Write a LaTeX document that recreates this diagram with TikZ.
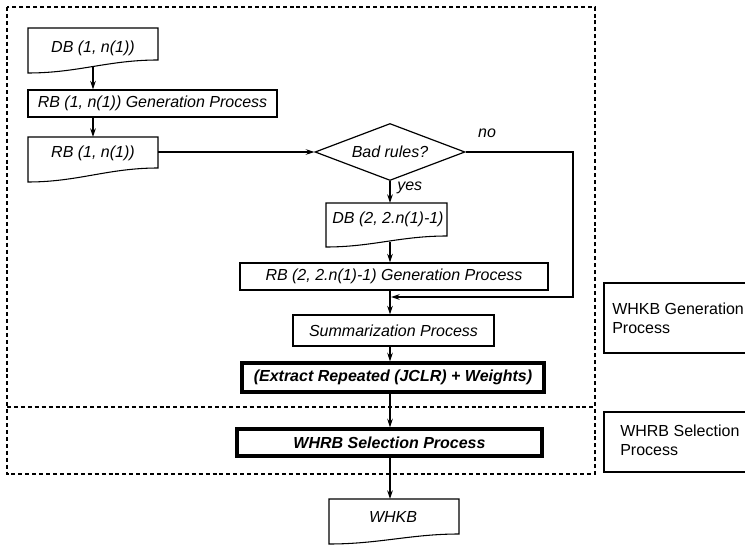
\documentclass[tikz,border=0pt]{standalone}
\usepackage{fontspec}
\setmainfont{Liberation Sans}
\usetikzlibrary{arrows.meta,calc,shapes.geometric}
\begin{document}
\begin{tikzpicture}[x=0.75pt,y=-0.75pt,
  pw/.style={minimum width=#1*0.75pt},
  ph/.style={minimum height=#1*0.75pt},
  ln/.style={line width=0.8pt},
  conn/.style={line width=0.9pt},
  arr/.style={line width=0.9pt,-{Stealth[length=6.5pt,width=4.2pt]}},
  proc/.style={draw,line width=0.8pt,rectangle,inner sep=0pt,font=\fontsize{12}{15}\selectfont\itshape},
  boldproc/.style={draw,line width=2.4pt,rectangle,inner sep=0pt,font=\fontsize{12}{15}\selectfont\bfseries\itshape},
  txt/.style={inner sep=0pt,font=\fontsize{12}{15}\selectfont\itshape},
  rtxt/.style={inner sep=0pt,align=left,font=\fontsize{12}{14.5}\selectfont},
  region/.style={line width=0.9pt,dash pattern=on 3pt off 2.2pt},
  decision/.style={draw,diamond,line width=0.9pt,inner sep=0pt,aspect=2.63,pw=150,ph=57,font=\fontsize{12}{15}\selectfont\itshape},
]
\useasboundingbox (0,0) rectangle (745,545);
\clip (0,0) rectangle (745,545);

% regions
\draw[region] (7,7) rectangle (595,474);
\draw[region] (7,407) -- (595,407);

% right labels
\draw[ln] (604,283) rectangle (770,353);
\node[rtxt,anchor=west] (lab1) at (612,318) {WHKB Generation\\Process};
\draw[ln] (604,412) rectangle (770,472);
\node[rtxt,anchor=west] (lab2) at (620,440.5) {WHRB Selection\\Process};

\coordinate (col) at (390,0);

% DB(1,n(1))
\draw[ln] (28,28) -- (158,28) -- (158,60) .. controls (108,60) and (78,73) .. coordinate[pos=0.5] (db1w) (28,73) -- cycle;
\node[txt] (db1) at (93,48) {DB (1, n(1))};

% RB generation 1
\node[proc,pw=249,ph=27] (gen1) at (152.5,103.5) {RB (1, n(1)) Generation Process};

% RB(1,n(1))
\draw[ln] (28,137) -- (158,137) -- (158,168) .. controls (108,168) and (78,182) .. (28,182) -- cycle;
\node[txt] (rb1) at (93,153) {RB (1, n(1))};
\coordinate (rb1e) at (158,152);

% decision
\node[decision] (dia) at (390,152) {Bad rules?};
\node[txt] (no) at (487,133) {no};
\node[txt,anchor=west] (yes) at (397,188) {yes};

% DB(2,...)
\draw[ln] (326,203) -- (447,203) -- (447,236) .. controls (400,236) and (372,247) .. coordinate[pos=0.5] (db2w) (326,247) -- cycle;
\node[txt] (db2) at (388,219) {DB (2, 2.n(1)-1)};

% RB generation 2
\node[proc,pw=308,ph=27] (gen2) at (394,276.5) {RB (2, 2.n(1)-1) Generation Process};

% Summarization
\node[proc,pw=201,ph=31] (summ) at (393.5,330.5) {Summarization Process};

% Extract
\node[boldproc,pw=302,ph=29] (extr) at (393,377.5) {(Extract Repeated (JCLR) + Weights)};

% WHRB selection
\node[boldproc,pw=305,ph=27] (whrb) at (389.5,442.5) {WHRB Selection Process};

% WHKB
\draw[ln] (329,499) -- (459,499) -- (459,534) .. controls (411,534) and (379,544) .. (329,544) -- cycle;
\node[txt] (whkb) at (393,517) {WHKB};
\coordinate (whkbtop) at (390,499);

% connectors
\draw[arr] (db1w |- 0,66) -- (db1w |- gen1.north);
\draw[arr] (db1w |- gen1.south) -- (db1w |- 0,137);
\draw[arr] (rb1e) -- (dia.west);
\coordinate (noturn) at (573,152);
\coordinate (merge) at (391,297);
\draw[arr,line width=0.8pt] (dia.east) -- (noturn) |- (merge);
\draw[arr] (dia.south) -- (col |- 0,203);
\draw[arr] (col |- db2w) -- (col |- gen2.north);
\draw[arr] (col |- gen2.south) -- (col |- summ.north);
\draw[arr] (col |- summ.south) -- (col |- extr.north);
\draw[arr] (col |- extr.south) -- (col |- whrb.north);
\draw[arr] (col |- whrb.south) -- (whkbtop);
\end{tikzpicture}
\end{document}
